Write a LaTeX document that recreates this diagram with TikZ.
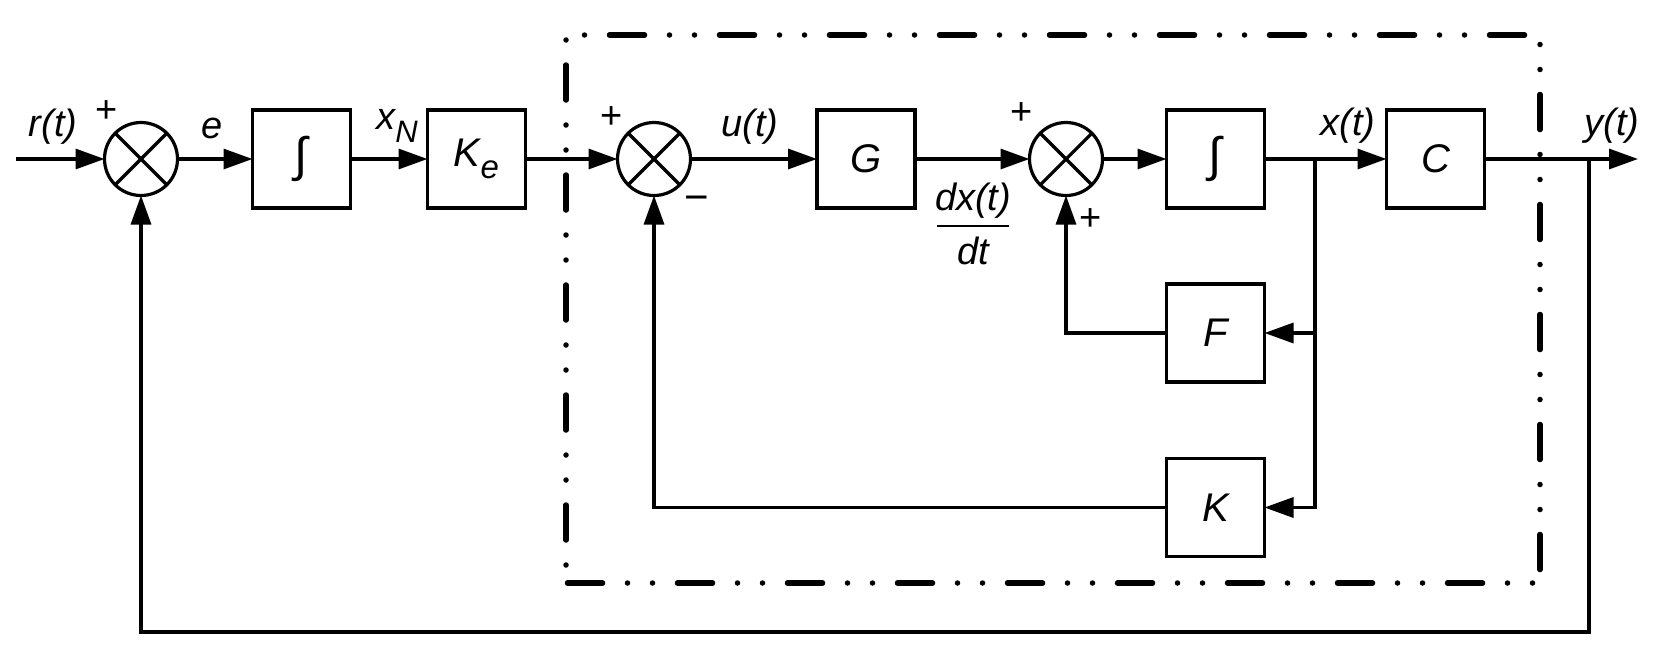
\documentclass[tikz,border=0pt]{standalone}
\usepackage{fontspec}
\setmainfont{Liberation Sans}
\usetikzlibrary{arrows.meta}
\begin{document}
\begin{tikzpicture}[x=1pt,y=-1pt,
  line width=3.2pt,
  blk/.style={draw, minimum width=98pt, minimum height=98pt, inner sep=0pt, outer sep=0pt, font=\fontsize{40}{46}\selectfont\itshape},
  sumn/.style={draw, circle, minimum size=73pt, inner sep=0pt, outer sep=0pt},
  lbl/.style={inner sep=0pt, font=\fontsize{38}{44}\selectfont\itshape},
  sgn/.style={inner sep=0pt, font=\fontsize{38}{44}\selectfont},
  sig/.style={-{Triangle[length=29pt,width=20pt]}},
  ddd/.style={line width=5.5pt, line cap=round, dash pattern=on 35pt off 25pt on 0pt off 25pt on 0pt off 25pt},
]
\useasboundingbox (0,0) rectangle (1665,659);

% dash-dot-dot frame
\draw[ddd, dash phase=66.5pt] (566,35) -- (1540,35);
\draw[ddd, dash phase=80pt] (566,35) -- (566,583);
\draw[ddd, dash phase=50.5pt] (1540,35) -- (1540,583);
\draw[ddd, dash phase=108.5pt] (566,583) -- (1540,583);

% summing junctions
\node[sumn] (s1) at (141,159) {};
\node[sumn] (s2) at (654,159) {};
\node[sumn] (s3) at (1066,159) {};
\foreach \s in {s1,s2,s3}{
  \draw (\s.north east) -- (\s.south west) (\s.north west) -- (\s.south east);
}

% blocks
\node[blk] (i1) at (301.5,159) {\upshape\fontsize{48}{54}\selectfont ∫};
\node[blk] (ke) at (476.5,159) {K\raisebox{-0.3em}{\fontsize{33}{38}\selectfont e}};
\node[blk] (g) at (866,159) {G};
\node[blk] (i2) at (1215.5,159) {\upshape\fontsize{48}{54}\selectfont ∫};
\node[blk] (c) at (1435.5,159) {C};
\node[blk] (f) at (1215.5,333) {F};
\node[blk] (k) at (1215.5,507.5) {K};

% coordinates
\coordinate (in) at (16,159);
\coordinate (out) at (1638,159);
\coordinate (bx) at (1315,159);
\coordinate (by) at (1589,159);
\coordinate (fb) at (1589,632);

% forward path
\draw[sig] (in) -- (s1);
\draw[sig] (s1) -- (i1);
\draw[sig] (i1) -- (ke);
\draw[sig] (ke) -- (s2);
\draw[sig] (s2) -- (g);
\draw[sig] (g) -- (s3);
\draw[sig] (s3) -- (i2);
\draw[sig] (i2) -- (c);
\draw[sig] (c) -- (out);

% feedback paths
\draw[sig] (bx) |- (k.east);
\draw[sig] (bx |- f.east) -- (f.east);
\draw[sig] (f.west) -| (s3.south);
\draw[sig] (k.west) -| (s2.south);
\draw[sig] (by) -- (fb) -| (s1.south);

% signal labels
\node[lbl] (lr) at (53,127) {r(t)};
\node[lbl] (le) at (212,128) {e};
\node[lbl] (lxn) at (397,126) {x\raisebox{-0.35em}{\fontsize{31}{36}\selectfont N}};
\node[lbl] (lu) at (750,127) {u(t)};
\node[lbl] (ldx) at (973,201) {dx(t)};
\node[inner sep=0pt] (lbar) at (973,226) {\rule{72pt}{2pt}};
\node[lbl] (ldt) at (973,251) {dt};
\node[lbl] (lx) at (1348,126) {x(t)};
\node[lbl] (ly) at (1612,126) {y(t)};

% signs
\node[sgn] (p1) at (107,112) {+};
\node[sgn] (p2) at (612,118) {+};
\node[sgn] (m2) at (697,204) {\fontsize{42}{46}\selectfont −};
\node[sgn] (p3) at (1022,114) {+};
\node[sgn] (p4) at (1091,220) {+};
\end{tikzpicture}
\end{document}
